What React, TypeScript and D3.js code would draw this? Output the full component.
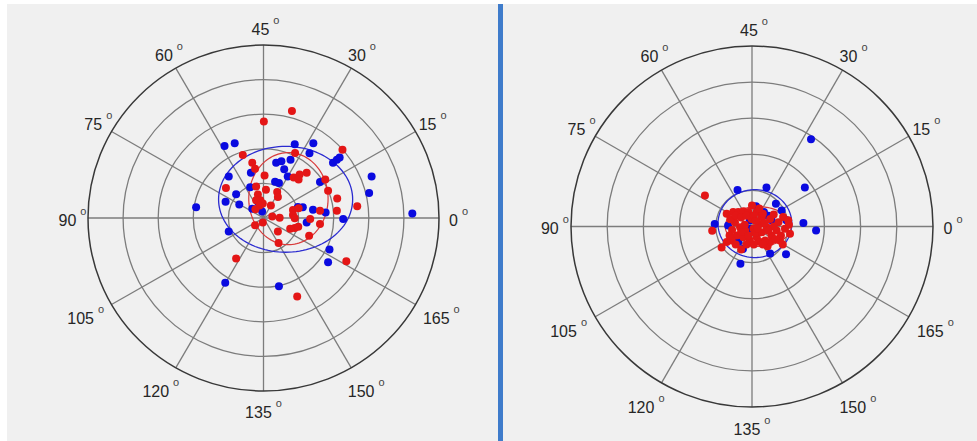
import React, { useEffect, useRef } from "react";
import * as d3 from "d3";

// angle tick labels, one per spoke (every 30 deg on screen)
const angleLabels = [0, 15, 30, 45, 60, 75, 90, 105, 120, 135, 150, 165];
const ringValues = [1, 2, 3, 4, 5];

// points as [x, y] in ring units (outer ring = 5)
const leftRed = [
  [0.81, 3.09], [0.01, 2.79], [-0.59, 1.82], [2.25, 1.97], [0.9, 1.88], [-0.32, 1.6],
  [-0.24, 1.42], [0.03, 1.23], [0.86, 1.17], [1.03, 1.26], [1.23, 1.31], [1.0, 1.11],
  [1.76, 1.11], [-1.07, 0.87], [-0.21, 0.91], [0.07, 0.82], [1.84, 0.79], [0.39, 0.75],
  [-0.16, 0.68], [0.41, 0.61], [2.1, 0.56], [-0.09, 0.51], [-0.21, 0.51], [-0.02, 0.42],
  [-0.11, 0.36], [2.67, 0.34], [0.21, 0.36], [2.09, 0.21], [-0.23, 0.25], [0.84, 0.23],
  [0.84, 0.09], [1.0, 0.28], [1.61, 0.21], [0.25, 0.04], [0.46, 0.01], [0.89, -0.01],
  [1.33, -0.03], [-0.24, -0.21], [-0.02, -0.13], [0.89, -0.29], [0.76, -0.31], [0.99, -0.25],
  [1.61, -0.17], [0.41, -0.39], [1.3, -0.51], [0.43, -0.72], [-0.78, -1.17], [2.36, -1.25],
  [0.96, -2.27],
];
const leftBlue = [
  [-1.11, 2.08], [-0.82, 2.16], [0.89, 2.13], [1.42, 2.16], [1.31, 1.87], [1.98, 1.6],
  [2.09, 1.68], [2.17, 1.75], [0.36, 1.6], [0.51, 1.64], [0.77, 1.68], [0.59, 1.41],
  [-0.36, 1.31], [-0.99, 1.2], [0.69, 1.2], [0.33, 1.05], [0.44, 1.01], [1.61, 1.04],
  [3.08, 1.2], [3.01, 0.72], [-0.38, 0.89], [-0.78, 0.69], [-1.08, 0.47], [-0.69, 0.39],
  [-1.92, 0.31], [-0.16, 0.47], [-0.32, 0.27], [-0.04, 0.19], [0.98, 0.32], [1.12, 0.31],
  [1.41, 0.24], [1.77, 0.16], [2.27, -0.03], [1.23, -0.13], [-0.99, -0.39], [1.88, -0.91],
  [1.84, -1.28], [-1.09, -1.87], [0.44, -1.97], [4.24, 0.13],
];
const rightRed = [
  [-1.3, 0.86], [-1.1, -0.12], [-0.84, -0.58], [-0.3, -0.64], [0.43, -0.55], [0.85, -0.5],
  [1.05, -0.2], [-0.52, 0.4], [-0.38, 0.4], [-0.24, 0.42], [-0.1, 0.4], [0.13, 0.4],
  [-0.01, 0.21], [0.22, 0.07], [0.04, -0.06], [-0.19, -0.11], [-0.33, -0.02], [-0.42, -0.25],
  [-0.24, -0.3], [-0.06, -0.39], [0.13, -0.3], [0.27, -0.16], [0.41, -0.02], [0.54, -0.25],
  [0.68, -0.11], [0.73, 0.12], [0.86, 0.26], [1.0, 0.17], [0.91, -0.06], [0.5, -0.43],
  [0.22, -0.43], [-0.15, -0.5], [-0.56, -0.39], [-0.7, -0.43], [-0.7, 0.35], [0.27, 0.26],
  [0.5, 0.21], [0.0, 0.58], [0.36, -0.39], [0.77, -0.39], [-0.47, 0.11], [0.08, -0.17],
  [-0.6, 0.2], [-0.45, 0.3], [-0.3, 0.25], [-0.15, 0.3], [0.05, 0.3], [0.3, 0.35],
  [0.6, 0.33], [-0.55, -0.1], [-0.3, -0.15], [0.15, -0.05], [0.35, 0.1], [0.6, 0.0],
  [0.8, -0.25], [-0.1, -0.25], [0.3, -0.5], [-0.45, -0.5], [-0.2, 0.05], [0.1, 0.15],
  [0.65, -0.35], [1.02, 0.05], [-0.62, -0.25], [0.05, -0.5], [0.45, -0.12], [0.2, 0.5],
];
const rightBlue = [
  [1.63, 2.42], [-0.4, 1.01], [0.4, 1.08], [1.46, 1.08], [0.66, 0.63], [0.82, 0.44],
  [0.11, 0.56], [0.33, 0.4], [0.45, 0.3], [0.54, 0.17], [-1.03, 0.07], [-0.66, 0.03],
  [1.42, 0.1], [1.77, -0.11], [0.95, 0.17], [-0.06, 0.17], [-0.07, -0.06], [-0.52, -0.34],
  [-0.38, -0.43], [-0.25, -0.62], [0.5, -0.75], [0.94, -0.77], [-0.32, -1.03], [-0.19, -0.17],
];

// fitted ellipses: [centerX, centerY, radiusX, radiusY]
const leftBlueFit = [0.63, 0.54, 1.91, 1.53];
const leftRedFit = [0.71, 0.56, 1.13, 1.33];
const rightBlueFit = [0.08, 0.08, 1.02, 0.94];
const rightRedFit = [0.17, 0.0, 0.91, 0.55];

const BLUE = "#0a0ae0";
const RED = "#e41616";
const rad = (d) => (d * 2 * Math.PI) / 180; // label 15 -> 30 deg on screen

const drawPolar = (svg, cfg) => {
  const { cx, cy, rx, ry, red, blue, redFit, blueFit } = cfg;
  const x = d3.scaleLinear().domain([-5, 5]).range([cx - rx, cx + rx]);
  const y = d3.scaleLinear().domain([-5, 5]).range([cy + ry, cy - ry]);
  const g = svg.append("g");

  // spokes
  g.selectAll(".spoke")
    .data(angleLabels.slice(0, 6))
    .enter()
    .append("line")
    .attr("x1", (d) => x(5 * Math.cos(rad(d))))
    .attr("y1", (d) => y(5 * Math.sin(rad(d))))
    .attr("x2", (d) => x(-5 * Math.cos(rad(d))))
    .attr("y2", (d) => y(-5 * Math.sin(rad(d))))
    .attr("stroke", "#7c7c7c")
    .attr("stroke-width", 1.3);

  // rings
  g.selectAll(".ring")
    .data(ringValues)
    .enter()
    .append("ellipse")
    .attr("cx", x(0))
    .attr("cy", y(0))
    .attr("rx", (d) => x(d) - x(0))
    .attr("ry", (d) => y(0) - y(d))
    .attr("fill", "none")
    .attr("stroke", (d) => (d === 5 ? "#383838" : "#7c7c7c"))
    .attr("stroke-width", (d) => (d === 5 ? 1.5 : 1.3));

  // angle labels (lower half sits a bit further out)
  const low = (d) => Math.sin(rad(d)) < -0.1;
  const lrx = (d) => (low(d) ? 5.85 : 5.5);
  const lry = (d) => (!low(d) ? 5.5 : Math.abs(Math.cos(rad(d))) < 0.1 ? 5.62 : 5.8);
  const up = (d) => (low(d) ? 0 : 2);
  const labels = g.selectAll(".lbl")
    .data(angleLabels)
    .enter()
    .append("text")
    .attr("x", (d) => x(lrx(d) * Math.cos(rad(d))) + up(d))
    .attr("y", (d) => y(lry(d) * Math.sin(rad(d))) + up(d) + 5.6)
    .attr("text-anchor", "middle")
    .attr("font-family", "'Liberation Sans', Arial, sans-serif")
    .attr("font-size", 16)
    .attr("fill", "#262626");
  labels.append("tspan").text((d) => d);
  labels.append("tspan")
    .attr("dx", 4)
    .attr("dy", -11)
    .attr("font-size", 11)
    .attr("fill", "#444")
    .text("o");

  const ellipsePath = (p) =>
    d3.line().curve(d3.curveLinearClosed)(
      d3.range(0, 2 * Math.PI, Math.PI / 60).map((t) => [
        x(p[0] + p[2] * Math.cos(t)),
        y(p[1] + p[3] * Math.sin(t)),
      ])
    );

  g.append("path").attr("d", ellipsePath(blueFit))
    .attr("fill", "none").attr("stroke", "#2b2bd0").attr("stroke-width", 1.3);
  g.append("path").attr("d", ellipsePath(redFit))
    .attr("fill", "none").attr("stroke", "#d83a3a").attr("stroke-width", 1.2);

  g.selectAll(".bdot")
    .data(blue)
    .enter()
    .append("circle")
    .attr("cx", (d) => x(d[0]))
    .attr("cy", (d) => y(d[1]))
    .attr("r", 4)
    .attr("fill", BLUE);
  g.selectAll(".rdot")
    .data(red)
    .enter()
    .append("circle")
    .attr("cx", (d) => x(d[0]))
    .attr("cy", (d) => y(d[1]))
    .attr("r", 4)
    .attr("fill", RED);
};

const App = () => {
  const ref = useRef(null);

  useEffect(() => {
    const width = 977;
    const height = 441;
    d3.select(ref.current).select("svg").remove();
    const svg = d3
      .select(ref.current)
      .append("svg")
      .attr("width", width)
      .attr("height", height)
      .style("display", "block");

    svg.append("rect").attr("width", width).attr("height", height).attr("fill", "#ffffff");
    svg.append("rect")
      .attr("x", 7).attr("y", 4)
      .attr("width", width - 7).attr("height", height - 4)
      .attr("fill", "#f0f0f0");

    drawPolar(svg, {
      cx: 263.5, cy: 218, rx: 175.5, ry: 173,
      red: leftRed, blue: leftBlue, redFit: leftRedFit, blueFit: leftBlueFit,
    });
    drawPolar(svg, {
      cx: 752, cy: 226.5, rx: 181, ry: 180.5,
      red: rightRed, blue: rightBlue, redFit: rightRedFit, blueFit: rightBlueFit,
    });

    // divider between the two panels
    svg.append("rect")
      .attr("x", 498).attr("y", 4)
      .attr("width", 5).attr("height", height - 4)
      .attr("fill", "#3f7ccb");
  }, []);

  return <div ref={ref} style={{ position: "absolute", left: 0, top: 0 }}></div>;
};

export default App;
